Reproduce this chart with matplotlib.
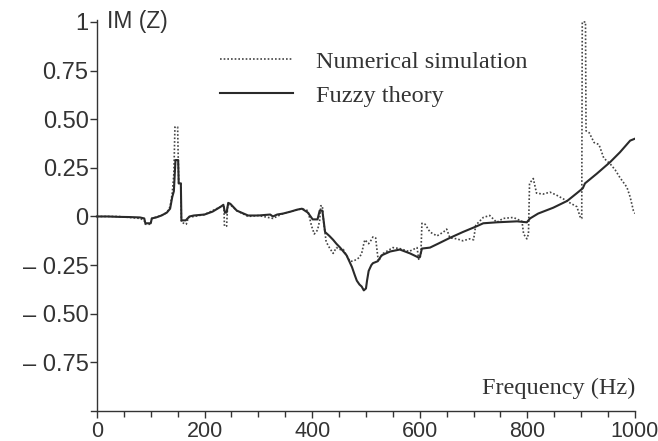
import numpy as np, matplotlib; matplotlib.use('Agg')
import matplotlib.pyplot as plt

# fuzzy theory (solid)
f_fz = [0, 20, 40, 60, 80, 88, 90, 100, 102, 110, 120, 130, 136, 140, 143, 146, 151, 152, 156, 157,
        165, 172, 180, 200, 215, 230, 235, 238, 241, 244, 248, 260, 281, 300, 322, 327, 335, 346, 360,
        372, 381, 392, 401, 410, 414, 419, 424, 432, 439, 445, 452, 458, 464, 469, 474, 479, 483, 488,
        492, 496, 500, 502, 505, 510, 513, 522, 529, 545, 563, 582, 597, 600, 604, 619, 634, 656, 680,
        706, 718, 743, 781, 799, 805, 820, 848, 874, 892, 903, 907, 929, 954, 972, 991, 1000]
im_fz = [0.0, 0.0, -0.002, -0.003, -0.005, -0.01, -0.035, -0.035, -0.01, -0.005, 0.005, 0.02, 0.04,
         0.1, 0.13, 0.29, 0.29, 0.17, 0.17, -0.02, -0.02, 0.0, 0.005, 0.01, 0.025, 0.05, 0.06, 0.02,
         0.02, 0.07, 0.065, 0.03, 0.005, 0.005, 0.01, 0.0, 0.01, 0.015, 0.025, 0.035, 0.04, 0.02,
         -0.015, -0.015, 0.03, 0.03, -0.08, -0.1, -0.12, -0.14, -0.16, -0.18, -0.20, -0.23, -0.26,
         -0.30, -0.33, -0.35, -0.36, -0.38, -0.37, -0.33, -0.28, -0.25, -0.24, -0.23, -0.20, -0.18,
         -0.17, -0.19, -0.21, -0.21, -0.165, -0.16, -0.14, -0.11, -0.08, -0.05, -0.035, -0.03, -0.025,
         -0.03, -0.01, 0.015, 0.045, 0.08, 0.12, 0.145, 0.17, 0.22, 0.28, 0.33, 0.39, 0.40]

# numerical simulation (dotted)
f_num = [0, 40, 80, 88, 90, 100, 102, 120, 130, 136, 140, 143, 145, 150, 152, 156, 157, 166, 170, 200,
         230, 236, 237, 241, 243, 248, 260, 281, 300, 327, 346, 381, 392, 399, 404, 410, 414, 416, 419,
         421, 426, 432, 439, 445, 452, 458, 464, 470, 476, 483, 488, 492, 496, 498, 505, 510, 513, 518,
         520, 523, 532, 550, 563, 580, 595, 598, 602, 604, 610, 619, 632, 644, 650, 656, 669, 680, 693,
         700, 704, 718, 730, 743, 755, 774, 790, 793, 799, 802, 804, 811, 817, 829, 842, 854, 867, 879,
         892, 899, 901, 902, 908, 909, 915, 924, 933, 942, 954, 963, 972, 985, 991, 997, 1000]
im_num = [0.0, 0.0, -0.01, -0.02, -0.04, -0.04, -0.01, 0.005, 0.02, 0.05, 0.12, 0.22, 0.46, 0.46,
          0.17, 0.17, -0.03, -0.04, -0.005, 0.01, 0.05, 0.05, -0.05, -0.05, 0.06, 0.06, 0.03, 0.0,
          0.005, -0.01, 0.015, 0.04, 0.03, -0.05, -0.09, -0.07, -0.02, 0.055, 0.055, -0.02, -0.13,
          -0.16, -0.19, -0.16, -0.17, -0.17, -0.20, -0.23, -0.23, -0.22, -0.21, -0.19, -0.14, -0.12,
          -0.14, -0.12, -0.105, -0.11, -0.16, -0.23, -0.19, -0.16, -0.165, -0.18, -0.16, -0.22, -0.20,
          -0.035, -0.04, -0.08, -0.10, -0.08, -0.065, -0.11, -0.115, -0.125, -0.115, -0.12, -0.045,
          -0.005, 0.005, -0.03, -0.01, -0.005, -0.025, -0.09, -0.115, -0.09, 0.17, 0.195, 0.12, 0.115,
          0.125, 0.11, 0.09, 0.07, 0.05, -0.01, -0.01, 1.0, 1.0, 0.44, 0.43, 0.38, 0.37, 0.30, 0.27,
          0.24, 0.20, 0.15, 0.10, 0.03, 0.015]

xticks = [0, 200, 400, 600, 800, 1000]
yticks = [-0.75, -0.5, -0.25, 0, 0.25, 0.5, 0.75, 1]
ylabels = ['\u2013 0.75', '\u2013 0.50', '\u2013 0.25', '0', '0.25', '0.50', '0.75', '1']

plt.rcParams['font.family'] = ['Liberation Sans', 'DejaVu Sans']
fig = plt.figure(figsize=(6.58, 4.41), dpi=100)
ax = fig.add_axes([91/658, 30/441, 544/658, 391/441])

ax.plot(f_num, im_num, ls=(0, (1, 1.2)), c='#444444', lw=1.2, label='Numerical simulation')
ax.plot(f_fz, im_fz, '-', c='#2a2a2a', lw=1.5, label='Fuzzy theory')

ax.set_xlim(-11, 1000); ax.set_ylim(-1, 1.01)
for s in ('top', 'right'):
    ax.spines[s].set_visible(False)
ax.spines['left'].set_position(('data', 0))
for s in ('left', 'bottom'):
    ax.spines[s].set_color('#333333'); ax.spines[s].set_linewidth(1.0)
ax.set_xticks(xticks); ax.set_xticks(np.arange(0, 1001, 50), minor=True)
ax.set_yticks(yticks); ax.set_yticklabels(ylabels)
ax.tick_params(axis='both', colors='#333333', direction='out', length=5, width=1)
ax.tick_params(axis='y', labelsize=17, pad=1)
ax.tick_params(axis='x', labelsize=15.5, pad=2)
ax.tick_params(axis='x', which='minor', length=4, width=1, colors='#333333')

ax.text(0.03, 0.995, 'IM (Z)', transform=ax.transAxes, fontsize=16.5, va='center', ha='left', color='#333333')
ax.text(1.0, 0.043, 'Frequency (Hz)', transform=ax.transAxes, fontsize=17.5, ha='right', va='baseline',
        family='Liberation Serif', color='#333333')
leg = ax.legend(loc='upper left', bbox_to_anchor=(0.237, 0.922), frameon=False, borderpad=0,
                borderaxespad=0, handlelength=3.0, handletextpad=0.95, labelspacing=0.5,
                prop={'family': 'Liberation Serif', 'size': 17.5})
for t in leg.get_texts():
    t.set_color('#333333')

fig.savefig('out.png', dpi=100)
